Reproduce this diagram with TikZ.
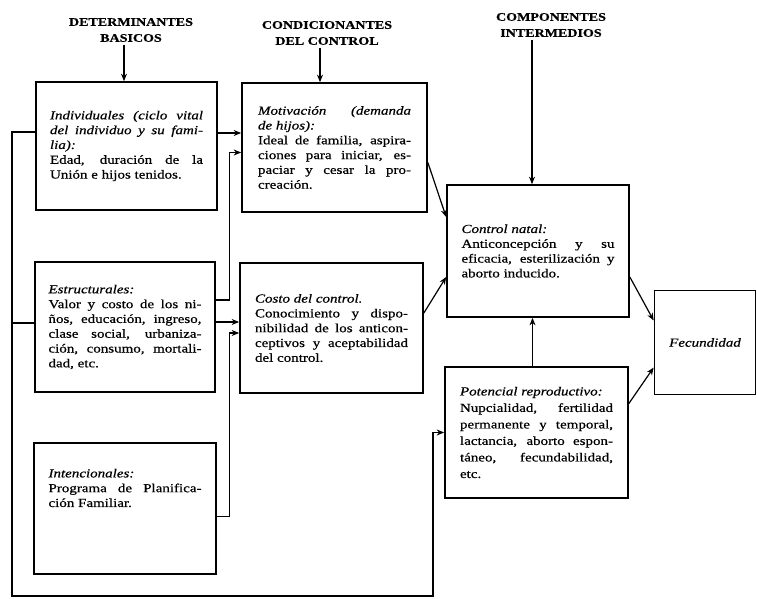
\documentclass[tikz,border=0pt]{standalone}
\usepackage{fontspec}
\setmainfont{Liberation Serif}[FakeStretch=1.22, FakeBold=0.6]
\usepackage{tikz}
\usetikzlibrary{arrows.meta}
\tikzset{>={Stealth[length=7.5pt,width=6pt]},
every node/.style={font=\fontsize{12.3}{14.8}\selectfont},
box/.style={draw, line width=1.7pt, inner sep=0pt, text width=153pt, align=justify},
head/.style={align=center, font=\fontsize{11.5}{16}\selectfont\bfseries},
link/.style={line width=1.2pt},
}
\newcommand{\cab}{\textit}

\begin{document}
\begin{tikzpicture}[x=1pt, y=-1pt]
\useasboundingbox (0,0) rectangle (757,598);
    % cabeceras
    \node[head] (hdA) at (131,30) {DETERMINANTES\\BASICOS};
    \node[head] (hdB) at (327,33) {CONDICIONANTES\\DEL CONTROL};
    \node[head] (hdC) at (551,25) {COMPONENTES\\INTERMEDIOS};

    % determinantes basicos
    \node[box, minimum width=181pt, minimum height=128pt] (ind) at (126.5,146) {\cab{Individuales (ciclo vital\linebreak del individuo y su fami-\linebreak lia):}\\ Edad, duración de la\linebreak Unión e hijos tenidos.};
    \node[box, minimum width=180pt, minimum height=130pt] (est) at (125,327) {\cab{Estructurales:}\\ Valor y costo de los ni-\linebreak ños, educación, ingreso,\linebreak clase social, urbaniza-\linebreak ción, consumo, mortali-\linebreak dad, etc.};
    \node[box, minimum width=182pt, minimum height=131pt] (int) at (125,508.5) {\cab{Intencionales:}\\ Programa de Planifica-\linebreak ción Familiar.\par\rule{0pt}{40pt}};

    % condicionantes del control
    \node[box, minimum width=185pt, minimum height=129pt] (mot) at (334.5,147.5) {\cab{Motivación (demanda\linebreak de hijos):}\\ Ideal de familia, aspira-\linebreak ciones para iniciar, es-\linebreak paciar y cesar la pro-\linebreak creación.};
    \node[box, minimum width=183pt, minimum height=130pt] (cos) at (331.5,328) {\cab{Costo del control.}\\ Conocimiento y dispo-\linebreak nibilidad de los anticon-\linebreak ceptivos y aceptabilidad\linebreak del control.};

    % componentes intermedios
    \node[box, minimum width=182pt, minimum height=132pt] (nat) at (538,251) {\cab{Control natal:}\\ Anticoncepción y su\linebreak eficacia, esterilización y\linebreak aborto inducido.};
    \node[box, minimum width=183pt, minimum height=131pt, font=\fontsize{12.3}{16.5}\selectfont] (pot) at (536.5,432.5) {\cab{Potencial reproductivo:}\\ Nupcialidad, fertilidad\linebreak permanente y temporal,\linebreak lactancia, aborto espon-\linebreak táneo, fecundabilidad,\linebreak etc.};

    \node[box, text width=, align=center, minimum width=101pt, minimum height=104pt] (fec) at (705,342.5) {\cab{Fecundidad}};

    % flechas de cabecera
    \draw[link, ->] ([xshift=-7pt]hdA.south) -- ([xshift=-7pt]hdA.south |- ind.north);
    \draw[link, ->] ([xshift=-7pt]hdB.south) -- ([xshift=-7pt]hdB.south |- mot.north);
    \draw[link, ->] ([xshift=-19pt]hdC.south) -- ([xshift=-19pt]hdC.south |- nat.north);

    % basicos -> condicionantes
    \draw[link, ->] ([yshift=13pt]ind.east) -- ([yshift=13pt]ind.east -| mot.west);
    \draw[link, ->] ([yshift=27pt]est.east) -- ++(14,0) |- ([yshift=-5pt]mot.west);
    \draw[link, ->] ([yshift=5pt]est.east) -- ([yshift=5pt]est.east -| cos.west);
    \draw[link, ->] ([yshift=-8pt]int.east) -- ++(13,0) |- ([yshift=-5pt]cos.west);

    % condicionantes -> control natal
    \draw[link, ->] ([yshift=-15pt]mot.east) -- ([yshift=34pt]nat.west);
    \draw[link, ->] ([yshift=15pt]cos.east) -- ([yshift=-26pt]nat.west);
    \draw[link, ->] ([xshift=-4pt]pot.north) -- ([xshift=-4pt]pot.north |- nat.south);

    % -> fecundidad
    \draw[link, ->] ([yshift=-26pt]nat.east) -- ([yshift=22pt]fec.west);
    \draw[link, ->] ([yshift=29pt]pot.east) -- ([yshift=-25pt]fec.west);

    % retroalimentacion
    \coordinate (lft) at (12,596);
    \coordinate (btm) at (433,596);
    \draw[link, ->] ([yshift=14pt]ind.west) -| (lft) -- (btm) |- (pot.west);
    \draw[link] ([yshift=4pt]est.west) -- ([yshift=4pt]est.west -| lft);
\end{tikzpicture}
\end{document}
